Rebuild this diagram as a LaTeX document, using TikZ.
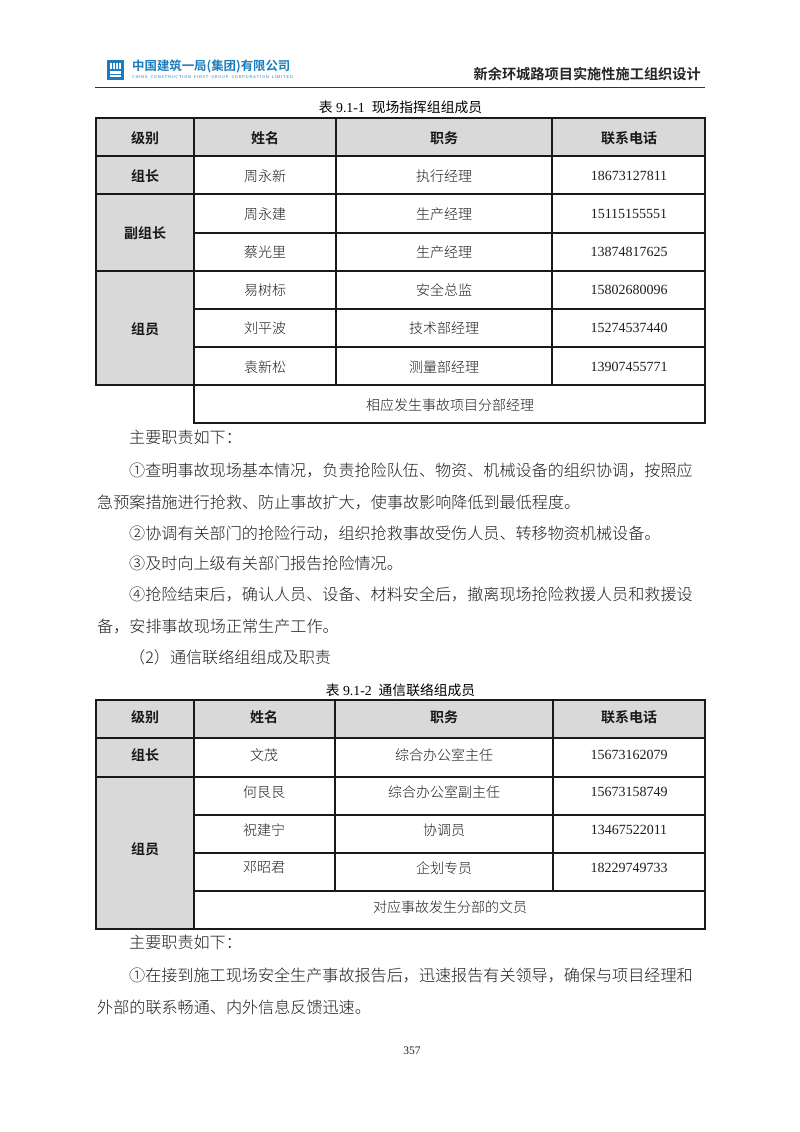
\documentclass[tikz,border=0pt]{standalone}
\usepackage{fontspec}
\setmainfont{Liberation Serif}
\newfontfamily\cjk{Noto Sans CJK SC}[Scale=1]
\newfontfamily\cjkl{Noto Sans CJK SC Light}
\newfontfamily\cjkb{Noto Sans CJK SC Bold}
\newfontfamily\cjkm{Noto Sans CJK SC Medium}
\definecolor{hdr}{RGB}{217,217,217}
\definecolor{txt}{RGB}{30,30,30}
\definecolor{logoblue}{RGB}{28,125,190}
\tikzset{
 cell/.style={font=\fontsize{14}{14}\selectfont\cjkl,text=txt,inner sep=0pt},
 num/.style={font=\fontsize{14}{14}\selectfont,text=txt,inner sep=0pt},
 head/.style={font=\fontsize{14}{14}\selectfont\cjkb,text=black!90,inner sep=0pt},
 capt/.style={font=\fontsize{13.8}{14}\selectfont,text=black,inner sep=0pt},
 body/.style={font=\fontsize{16.1}{16}\selectfont\cjkl,text=txt,anchor=west,inner sep=0pt},
 rule/.style={line width=1.7pt,black!90,line cap=rect},
}
\begin{document}
\begin{tikzpicture}[x=1pt,y=-1pt]
\useasboundingbox (0,0) rectangle (800,1132);
\fill[white] (0,0) rectangle (800,1132);
% header
\fill[logoblue] (107,60) rectangle (124,80);
\fill[white] (110,63) rectangle (121,69);
\fill[white] (110,71) rectangle (121,77);
\fill[logoblue] (112,63) rectangle (113,69) (115,63) rectangle (116,69) (118,63) rectangle (119,69);
\fill[logoblue] (110,73.5) rectangle (121,74.5);
\node[inner sep=0pt,anchor=west,text=logoblue,font=\fontsize{12.4}{13}\selectfont\cjkb] (logotext) at (132,66.5) {中国建筑一局(集团)有限公司};
\node[inner sep=0pt,anchor=west,text=logoblue,font=\fontsize{4.05}{5}\selectfont\sffamily] (logosub) at (132,77) {C\,H\,I\,N\,A\ \ C\,O\,N\,S\,T\,R\,U\,C\,T\,I\,O\,N\ \ F\,I\,R\,S\,T\ \ G\,R\,O\,U\,P\ \ C\,O\,R\,P\,O\,R\,A\,T\,I\,O\,N\ \ L\,I\,M\,I\,T\,E\,D};
\node[inner sep=0pt,anchor=east,text=black!85,font=\fontsize{14.2}{14}\selectfont\cjkb] (title) at (701,74) {新余环城路项目实施性施工组织设计};
\draw[line width=1pt,black!80] (95,87) -- (705,87);
% caption 1
\node[capt] (cap1) at (400.5,107.5) {{\cjk 表} 9.1-1\ \ {\cjk 现场指挥组组成员}};
% table 1 shading
\fill[hdr] (96,118) rectangle (705,156);
\fill[hdr] (96,156) rectangle (194,385);
% table 1 rules
\draw[rule] (96,118) rectangle (705,156);
\draw[rule] (96,156) -- (96,385);
\draw[rule] (705,156) -- (705,423);
\draw[rule] (194,118) -- (194,423);
\draw[rule] (336,118) -- (336,385);
\draw[rule] (552,118) -- (552,385);
\draw[rule] (96,194) -- (705,194);
\draw[rule] (96,156) -- (705,156);
\draw[rule] (194,233) -- (705,233);
\draw[rule] (96,271) -- (705,271);
\draw[rule] (194,309) -- (705,309);
\draw[rule] (194,347) -- (705,347);
\draw[rule] (96,385) -- (705,385);
\draw[rule] (194,423) -- (705,423);
% table 1 text
\node[head] (a1) at (145,138) {级别};
\node[head] (a2) at (265,138) {姓名};
\node[head] (a3) at (444,138) {职务};
\node[head] (a4) at (629,138) {联系电话};
\node[head] (b1) at (145,176) {组长};
\node[cell] (b2) at (265,176) {周永新};
\node[cell] (b3) at (444,176) {执行经理};
\node[num] (b4) at (629,176) {18673127811};
\node[head] (c1) at (145,233) {副组长};
\node[cell] (c2) at (265,214) {周永建};
\node[cell] (c3) at (444,214) {生产经理};
\node[num] (c4) at (629,214) {15115155551};
\node[cell] (d2) at (265,252) {蔡光里};
\node[cell] (d3) at (444,252) {生产经理};
\node[num] (d4) at (629,252) {13874817625};
\node[head] (e1) at (145,329) {组员};
\node[cell] (e2) at (265,290) {易树标};
\node[cell] (e3) at (444,290) {安全总监};
\node[num] (e4) at (629,290) {15802680096};
\node[cell] (f2) at (265,328) {刘平波};
\node[cell] (f3) at (444,328) {技术部经理};
\node[num] (f4) at (629,328) {15274537440};
\node[cell] (g2) at (265,367) {袁新松};
\node[cell] (g3) at (444,367) {测量部经理};
\node[num] (g4) at (629,367) {13907455771};
\node[cell] (h2) at (450,405) {相应发生事故项目分部经理};
% body
\node[body] (p1) at (129,437) {主要职责如下：};
\node[body] (p2) at (129,470) {①查明事故现场基本情况，负责抢险队伍、物资、机械设备的组织协调，按照应};
\node[body] (p3) at (97,502) {急预案措施进行抢救、防止事故扩大，使事故影响降低到最低程度。};
\node[body] (p4) at (129,533) {②协调有关部门的抢险行动，组织抢救事故受伤人员、转移物资机械设备。};
\node[body] (p5) at (129,563) {③及时向上级有关部门报告抢险情况。};
\node[body] (p6) at (129,594) {④抢险结束后，确认人员、设备、材料安全后，撤离现场抢险救援人员和救援设};
\node[body] (p7) at (97,626) {备，安排事故现场正常生产工作。};
\node[body] (p8) at (129,657) {（2）通信联络组组成及职责};
% caption 2
\node[capt] (cap2) at (400.5,690) {{\cjk 表} 9.1-2\ \ {\cjk 通信联络组成员}};
% table 2 shading
\fill[hdr] (96,700) rectangle (705,738);
\fill[hdr] (96,738) rectangle (194,929);
% table 2 rules
\draw[rule] (96,700) rectangle (705,738);
\draw[rule] (96,738) -- (96,929);
\draw[rule] (705,738) -- (705,929);
\draw[rule] (194,700) -- (194,929);
\draw[rule] (335,700) -- (335,891);
\draw[rule] (553,700) -- (553,891);
\draw[rule] (96,777) -- (705,777);
\draw[rule] (194,815) -- (705,815);
\draw[rule] (194,853) -- (705,853);
\draw[rule] (194,891) -- (705,891);
\draw[rule] (96,929) -- (705,929);
% table 2 text
\node[head] (i1) at (145,717) {级别};
\node[head] (i2) at (264,717) {姓名};
\node[head] (i3) at (444,717) {职务};
\node[head] (i4) at (629,717) {联系电话};
\node[head] (j1) at (145,755) {组长};
\node[cell] (j2) at (264,755) {文茂};
\node[cell] (j3) at (444,755) {综合办公室主任};
\node[num] (j4) at (629,755) {15673162079};
\node[head] (k1) at (145,849) {组员};
\node[cell] (k2) at (264,792) {何艮艮};
\node[cell] (k3) at (444,792) {综合办公室副主任};
\node[num] (k4) at (629,792) {15673158749};
\node[cell] (l2) at (264,830) {祝建宁};
\node[cell] (l3) at (444,830) {协调员};
\node[num] (l4) at (629,830) {13467522011};
\node[cell] (m2) at (264,868) {邓昭君};
\node[cell] (m3) at (444,868) {企划专员};
\node[num] (m4) at (629,868) {18229749733};
\node[cell] (n2) at (450,907) {对应事故发生分部的文员};
% body 2
\node[body] (q1) at (129,942) {主要职责如下：};
\node[body] (q2) at (129,975) {①在接到施工现场安全生产事故报告后，迅速报告有关领导，确保与项目经理和};
\node[body] (q3) at (97,1007) {外部的联系畅通、内外信息反馈迅速。};
\node[num,font=\fontsize{11.5}{12}\selectfont] (pg) at (412,1051) {357};
\end{tikzpicture}
\end{document}
